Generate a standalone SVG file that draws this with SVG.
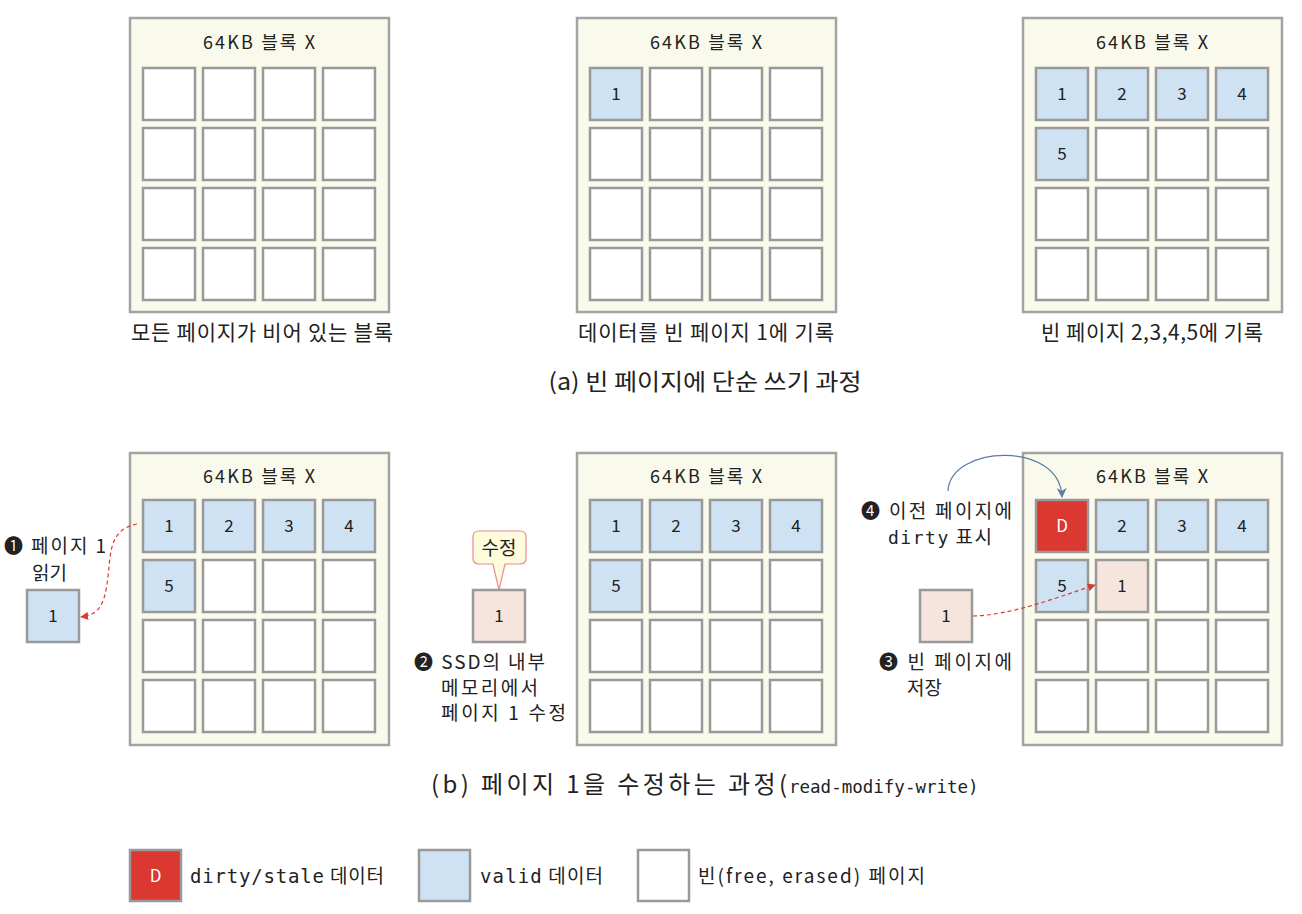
<svg xmlns="http://www.w3.org/2000/svg" width="1302" height="914" viewBox="0 0 1302 914">
<defs>
<style>
.blk{fill:#FAFAEC;stroke:#A3A3A3;stroke-width:2.5}
.c{stroke:#999;stroke-width:2.5;fill:#fff}
.v{fill:#CFE2F3}
.p{fill:#F6E5DD}
.d{fill:#DA3830}
text{font-family:"Noto Sans CJK KR","DejaVu Sans",sans-serif;fill:#222}
.h{font-size:18px;text-anchor:middle}
.n{font-size:17px;text-anchor:middle}
.cap{font-size:21px;text-anchor:middle}
.big{font-size:23px}
.t{font-size:19px}
.m{font-family:"DejaVu Sans Mono","Liberation Mono",monospace}
.w{fill:#fff}
</style>
<marker id="ar" viewBox="0 0 10 10" refX="9" refY="5" markerWidth="8" markerHeight="8" orient="auto" markerUnits="userSpaceOnUse"><path d="M0,0 L10,5 L0,10 z" fill="#D93A34"/></marker>
<marker id="ab" viewBox="0 0 10 10" refX="9" refY="5" markerWidth="10" markerHeight="10" orient="auto" markerUnits="userSpaceOnUse"><path d="M0,0 L10,5 L0,10 L3,5 z" fill="#5A7BA3"/></marker>
</defs>

<g id="block-a1">
<rect class="blk" x="130" y="18" width="259" height="294"/>
<text class="h" x="259" y="49" textLength="112" lengthAdjust="spacing">64KB 블록 X</text>
<rect class="c" x="143" y="68" width="52" height="52"/><rect class="c" x="203" y="68" width="52" height="52"/><rect class="c" x="263" y="68" width="52" height="52"/><rect class="c" x="323" y="68" width="52" height="52"/>
<rect class="c" x="143" y="128" width="52" height="52"/><rect class="c" x="203" y="128" width="52" height="52"/><rect class="c" x="263" y="128" width="52" height="52"/><rect class="c" x="323" y="128" width="52" height="52"/>
<rect class="c" x="143" y="188" width="52" height="52"/><rect class="c" x="203" y="188" width="52" height="52"/><rect class="c" x="263" y="188" width="52" height="52"/><rect class="c" x="323" y="188" width="52" height="52"/>
<rect class="c" x="143" y="248" width="52" height="52"/><rect class="c" x="203" y="248" width="52" height="52"/><rect class="c" x="263" y="248" width="52" height="52"/><rect class="c" x="323" y="248" width="52" height="52"/>
<text class="cap" x="262" y="340" textLength="262" lengthAdjust="spacing">모든 페이지가 비어 있는 블록</text>
</g>

<g id="block-a2">
<rect class="blk" x="577" y="18" width="259" height="294"/>
<text class="h" x="706" y="49" textLength="112" lengthAdjust="spacing">64KB 블록 X</text>
<rect class="c v" x="590" y="68" width="52" height="52"/><rect class="c" x="650" y="68" width="52" height="52"/><rect class="c" x="710" y="68" width="52" height="52"/><rect class="c" x="770" y="68" width="52" height="52"/>
<rect class="c" x="590" y="128" width="52" height="52"/><rect class="c" x="650" y="128" width="52" height="52"/><rect class="c" x="710" y="128" width="52" height="52"/><rect class="c" x="770" y="128" width="52" height="52"/>
<rect class="c" x="590" y="188" width="52" height="52"/><rect class="c" x="650" y="188" width="52" height="52"/><rect class="c" x="710" y="188" width="52" height="52"/><rect class="c" x="770" y="188" width="52" height="52"/>
<rect class="c" x="590" y="248" width="52" height="52"/><rect class="c" x="650" y="248" width="52" height="52"/><rect class="c" x="710" y="248" width="52" height="52"/><rect class="c" x="770" y="248" width="52" height="52"/>
<text class="n" x="616" y="100">1</text>
<text class="cap" x="706" y="340" textLength="256" lengthAdjust="spacing">데이터를 빈 페이지 1에 기록</text>
</g>

<g id="block-a3">
<rect class="blk" x="1023" y="18" width="259" height="294"/>
<text class="h" x="1152" y="49" textLength="112" lengthAdjust="spacing">64KB 블록 X</text>
<rect class="c v" x="1036" y="68" width="52" height="52"/><rect class="c v" x="1096" y="68" width="52" height="52"/><rect class="c v" x="1156" y="68" width="52" height="52"/><rect class="c v" x="1216" y="68" width="52" height="52"/>
<rect class="c v" x="1036" y="128" width="52" height="52"/><rect class="c" x="1096" y="128" width="52" height="52"/><rect class="c" x="1156" y="128" width="52" height="52"/><rect class="c" x="1216" y="128" width="52" height="52"/>
<rect class="c" x="1036" y="188" width="52" height="52"/><rect class="c" x="1096" y="188" width="52" height="52"/><rect class="c" x="1156" y="188" width="52" height="52"/><rect class="c" x="1216" y="188" width="52" height="52"/>
<rect class="c" x="1036" y="248" width="52" height="52"/><rect class="c" x="1096" y="248" width="52" height="52"/><rect class="c" x="1156" y="248" width="52" height="52"/><rect class="c" x="1216" y="248" width="52" height="52"/>
<text class="n" x="1062" y="100">1</text><text class="n" x="1122" y="100">2</text><text class="n" x="1182" y="100">3</text><text class="n" x="1242" y="100">4</text>
<text class="n" x="1062" y="160">5</text>
<text class="cap" x="1152" y="340" textLength="222" lengthAdjust="spacing">빈 페이지 2,3,4,5에 기록</text>
</g>

<text id="caption-a" class="cap big" x="705" y="390" textLength="313" lengthAdjust="spacingAndGlyphs">(a) 빈 페이지에 단순 쓰기 과정</text>

<g id="block-b1">
<rect class="blk" x="130" y="453" width="259" height="292"/>
<text class="h" x="259" y="483" textLength="112" lengthAdjust="spacing">64KB 블록 X</text>
<rect class="c v" x="143" y="500" width="52" height="52"/><rect class="c v" x="203" y="500" width="52" height="52"/><rect class="c v" x="263" y="500" width="52" height="52"/><rect class="c v" x="323" y="500" width="52" height="52"/>
<rect class="c v" x="143" y="560" width="52" height="52"/><rect class="c" x="203" y="560" width="52" height="52"/><rect class="c" x="263" y="560" width="52" height="52"/><rect class="c" x="323" y="560" width="52" height="52"/>
<rect class="c" x="143" y="620" width="52" height="52"/><rect class="c" x="203" y="620" width="52" height="52"/><rect class="c" x="263" y="620" width="52" height="52"/><rect class="c" x="323" y="620" width="52" height="52"/>
<rect class="c" x="143" y="680" width="52" height="52"/><rect class="c" x="203" y="680" width="52" height="52"/><rect class="c" x="263" y="680" width="52" height="52"/><rect class="c" x="323" y="680" width="52" height="52"/>
<text class="n" x="169" y="532">1</text><text class="n" x="229" y="532">2</text><text class="n" x="289" y="532">3</text><text class="n" x="349" y="532">4</text>
<text class="n" x="169" y="592">5</text>
</g>

<g id="read-page">
<text class="t" x="4" y="553" textLength="102" lengthAdjust="spacing">❶ 페이지 1</text>
<text class="t" x="32" y="580">읽기</text>
<rect class="c v" x="27" y="590" width="52" height="52"/>
<text class="n" x="53" y="622">1</text>
</g>

<g id="block-b2">
<rect class="blk" x="577" y="453" width="259" height="292"/>
<text class="h" x="706" y="483" textLength="112" lengthAdjust="spacing">64KB 블록 X</text>
<rect class="c v" x="590" y="500" width="52" height="52"/><rect class="c v" x="650" y="500" width="52" height="52"/><rect class="c v" x="710" y="500" width="52" height="52"/><rect class="c v" x="770" y="500" width="52" height="52"/>
<rect class="c v" x="590" y="560" width="52" height="52"/><rect class="c" x="650" y="560" width="52" height="52"/><rect class="c" x="710" y="560" width="52" height="52"/><rect class="c" x="770" y="560" width="52" height="52"/>
<rect class="c" x="590" y="620" width="52" height="52"/><rect class="c" x="650" y="620" width="52" height="52"/><rect class="c" x="710" y="620" width="52" height="52"/><rect class="c" x="770" y="620" width="52" height="52"/>
<rect class="c" x="590" y="680" width="52" height="52"/><rect class="c" x="650" y="680" width="52" height="52"/><rect class="c" x="710" y="680" width="52" height="52"/><rect class="c" x="770" y="680" width="52" height="52"/>
<text class="n" x="616" y="532">1</text><text class="n" x="676" y="532">2</text><text class="n" x="736" y="532">3</text><text class="n" x="796" y="532">4</text>
<text class="n" x="616" y="592">5</text>
</g>

<g id="modify-page">
<path d="M479,531 H520 Q526,531 526,537 V558 Q526,564 520,564 H505 L499,590 L493,564 H479 Q473,564 473,558 V537 Q473,531 479,531 Z" fill="#FFFCDD" stroke="#E98A90" stroke-width="1.2"/>
<text class="t" x="499" y="555" text-anchor="middle">수정</text>
<rect class="c p" x="473" y="590" width="52" height="52"/>
<text class="n" x="499" y="622">1</text>
<text class="t" x="414" y="669" textLength="131" lengthAdjust="spacing">❷ SSD의 내부</text>
<text class="t" x="441" y="695" textLength="97" lengthAdjust="spacing">메모리에서</text>
<text class="t" x="441" y="720" textLength="125" lengthAdjust="spacing">페이지 1 수정</text>
</g>

<g id="block-b3">
<rect class="blk" x="1023" y="453" width="259" height="292"/>
<text class="h" x="1152" y="483" textLength="112" lengthAdjust="spacing">64KB 블록 X</text>
<rect class="c d" x="1036" y="500" width="52" height="52"/><rect class="c v" x="1096" y="500" width="52" height="52"/><rect class="c v" x="1156" y="500" width="52" height="52"/><rect class="c v" x="1216" y="500" width="52" height="52"/>
<rect class="c v" x="1036" y="560" width="52" height="52"/><rect class="c p" x="1096" y="560" width="52" height="52"/><rect class="c" x="1156" y="560" width="52" height="52"/><rect class="c" x="1216" y="560" width="52" height="52"/>
<rect class="c" x="1036" y="620" width="52" height="52"/><rect class="c" x="1096" y="620" width="52" height="52"/><rect class="c" x="1156" y="620" width="52" height="52"/><rect class="c" x="1216" y="620" width="52" height="52"/>
<rect class="c" x="1036" y="680" width="52" height="52"/><rect class="c" x="1096" y="680" width="52" height="52"/><rect class="c" x="1156" y="680" width="52" height="52"/><rect class="c" x="1216" y="680" width="52" height="52"/>
<text class="n w" x="1062" y="532">D</text><text class="n" x="1122" y="532">2</text><text class="n" x="1182" y="532">3</text><text class="n" x="1242" y="532">4</text>
<text class="n" x="1062" y="592">5</text><text class="n" x="1122" y="592">1</text>
</g>

<g id="mark-dirty">
<text class="t" x="861" y="518" textLength="151" lengthAdjust="spacing">❹ 이전 페이지에</text>
<text class="t" x="888" y="544" textLength="104" lengthAdjust="spacing"><tspan class="m" font-size="18">dirty</tspan> 표시</text>
</g>

<g id="store-page">
<rect class="c p" x="920" y="590" width="52" height="52"/>
<text class="n" x="946" y="622">1</text>
<text class="t" x="879" y="669" textLength="133" lengthAdjust="spacing">❸ 빈 페이지에</text>
<text class="t" x="907" y="695">저장</text>
</g>

<g id="connectors" fill="none">
<path d="M137,524 C105,530 112,560 106,590 C102,610 95,615 81,617" stroke="#D93A34" stroke-width="1.2" stroke-dasharray="4,3" marker-end="url(#ar)"/>
<path d="M973,616 C1010,615 1050,600 1095,585" stroke="#D93A34" stroke-width="1.2" stroke-dasharray="4,3" marker-end="url(#ar)"/>
<path d="M948,491 C950,445 1060,440 1062,497" stroke="#5A7BA3" stroke-width="1.2" marker-end="url(#ab)"/>
</g>

<text id="caption-b" class="big" y="793"><tspan x="431" style="font-size:24px;letter-spacing:3.4px">(b) 페이지 1을 수정하는 과정(</tspan><tspan x="789" class="m" style="font-size:17.5px">read-modify-write)</tspan></text>

<g id="legend">
<rect class="c d" x="130" y="850" width="51" height="51"/>
<text class="n w" x="155.5" y="882">D</text>
<text class="t" x="190" y="883" textLength="194" lengthAdjust="spacing"><tspan class="m">dirty/stale</tspan> 데이터</text>
<rect class="c v" x="419" y="850" width="51" height="51"/>
<text class="t" x="480" y="883" textLength="123" lengthAdjust="spacing"><tspan class="m">valid</tspan> 데이터</text>
<rect class="c" x="638" y="850" width="51" height="51"/>
<text class="t" x="698" y="883" textLength="227" lengthAdjust="spacing">빈(free, erased) 페이지</text>
</g>
</svg>
